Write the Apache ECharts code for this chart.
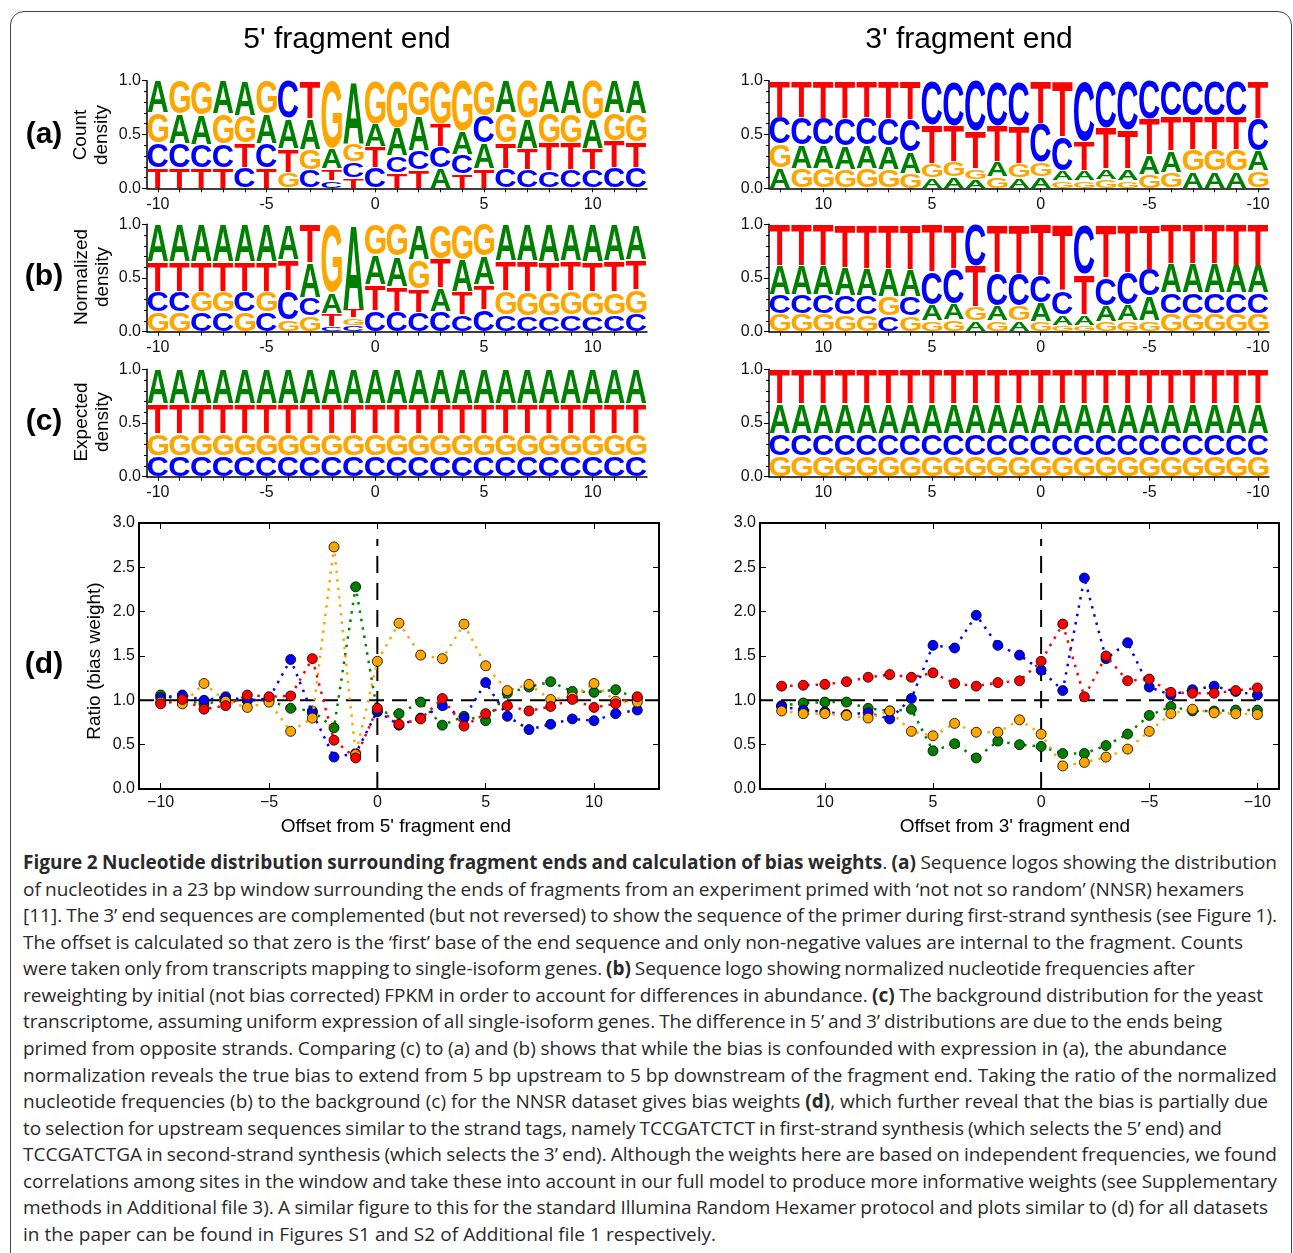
<!DOCTYPE html>
<html>
<head>
<meta charset="utf-8">
<title>Figure 2</title>
<script src="https://cdn.jsdelivr.net/npm/echarts@6/dist/echarts.min.js"></script>
<style>
  html, body { margin: 0; padding: 0; background: #fff; }
  body { width: 1293px; height: 1253px; position: relative; overflow: hidden; }
  #frame { position: absolute; left: 10px; top: 11px; width: 1282px; height: 1270px;
           border: 1.5px solid #444; border-radius: 14px; box-sizing: border-box; }
  #main { position: absolute; left: 0; top: 0; width: 1293px; height: 848px; }
  #caption { position: absolute; left: 23px; top: 849px; width: 1260px;
             font-family: 'Open Sans'; font-size: 19px; line-height: 26.57px; color: #2a2a2a; }
  #caption .ln { white-space: nowrap; }
  #caption b { font-weight: 700; }
</style>
</head>
<body>
<div id="frame"></div>
<div id="main"></div>
<div id="caption">
  <div class="ln"><span><b>Figure 2 Nucleotide distribution surrounding fragment ends and calculation of bias weights</b>. <b>(a)</b> Sequence logos showing the distribution</span></div>
  <div class="ln"><span>of nucleotides in a 23 bp window surrounding the ends of fragments from an experiment primed with ‘not not so random’ (NNSR) hexamers</span></div>
  <div class="ln"><span>[11]. The 3’ end sequences are complemented (but not reversed) to show the sequence of the primer during first-strand synthesis (see Figure 1).</span></div>
  <div class="ln"><span>The offset is calculated so that zero is the ‘first’ base of the end sequence and only non-negative values are internal to the fragment. Counts</span></div>
  <div class="ln"><span>were taken only from transcripts mapping to single-isoform genes. <b>(b)</b> Sequence logo showing normalized nucleotide frequencies after</span></div>
  <div class="ln"><span>reweighting by initial (not bias corrected) FPKM in order to account for differences in abundance. <b>(c)</b> The background distribution for the yeast</span></div>
  <div class="ln"><span>transcriptome, assuming uniform expression of all single-isoform genes. The difference in 5’ and 3’ distributions are due to the ends being</span></div>
  <div class="ln"><span>primed from opposite strands. Comparing (c) to (a) and (b) shows that while the bias is confounded with expression in (a), the abundance</span></div>
  <div class="ln"><span>normalization reveals the true bias to extend from 5 bp upstream to 5 bp downstream of the fragment end. Taking the ratio of the normalized</span></div>
  <div class="ln"><span>nucleotide frequencies (b) to the background (c) for the NNSR dataset gives bias weights <b>(d)</b>, which further reveal that the bias is partially due</span></div>
  <div class="ln"><span>to selection for upstream sequences similar to the strand tags, namely TCCGATCTCT in first-strand synthesis (which selects the 5’ end) and</span></div>
  <div class="ln"><span>TCCGATCTGA in second-strand synthesis (which selects the 3’ end). Although the weights here are based on independent frequencies, we found</span></div>
  <div class="ln"><span>correlations among sites in the window and take these into account in our full model to produce more informative weights (see Supplementary</span></div>
  <div class="ln"><span>methods in Additional file 3). A similar figure to this for the standard Illumina Random Hexamer protocol and plots similar to (d) for all datasets</span></div>
  <div class="ln"><span>in the paper can be found in Figures S1 and S2 of Additional file 1 respectively.</span></div>
</div>
<script>
// positions, left to right as drawn
var pos5 = [-10, -9, -8, -7, -6, -5, -4, -3, -2, -1, 0, 1, 2, 3, 4, 5, 6, 7, 8, 9, 10, 11, 12];
var pos3 = [12, 11, 10, 9, 8, 7, 6, 5, 4, 3, 2, 1, 0, -1, -2, -3, -4, -5, -6, -7, -8, -9, -10];
var xLabels = [-10, -5, 0, 5, 10];

// (a) count density, 5' end
var count5A = [.30, .27, .27, .31, .32, .27, .28, .29, .19, .58, .21, .26, .32, .19, .22, .24, .30, .28, .30, .31, .27, .30, .31];
var count5C = [.23, .23, .22, .22, .19, .23, .35, .17, .07, .15, .19, .16, .18, .20, .18, .25, .18, .17, .16, .17, .17, .19, .19];
var count5G = [.28, .31, .32, .28, .26, .31, .15, .19, .63, .17, .40, .44, .33, .40, .47, .33, .28, .35, .28, .27, .36, .26, .26];
var count5T = [.19, .19, .19, .19, .23, .19, .22, .35, .11, .10, .20, .14, .17, .21, .13, .18, .24, .20, .26, .25, .20, .25, .24];
// (b) normalized density, 5' end
var norm5A = [.35, .35, .35, .35, .35, .35, .33, .32, .19, .79, .27, .28, .33, .22, .30, .26, .34, .34, .35, .34, .35, .34, .33];
var norm5C = [.19, .19, .18, .18, .19, .18, .27, .17, .05, .06, .20, .19, .18, .19, .16, .21, .16, .15, .15, .16, .15, .16, .17];
var norm5G = [.18, .18, .19, .19, .18, .19, .11, .15, .64, .07, .29, .30, .27, .32, .33, .30, .22, .22, .22, .22, .22, .21, .22];
var norm5T = [.28, .28, .28, .28, .28, .28, .29, .36, .12, .08, .24, .23, .22, .27, .21, .23, .28, .29, .28, .28, .28, .29, .28];
// (c) expected density, 5' end
var exp5A = [.32, .32, .32, .32, .32, .32, .32, .32, .32, .32, .32, .32, .32, .32, .32, .32, .32, .32, .32, .32, .32, .32, .32];
var exp5C = [.195, .195, .195, .195, .195, .195, .195, .195, .195, .195, .195, .195, .195, .195, .195, .195, .195, .195, .195, .195, .195, .195, .195];
var exp5G = [.205, .205, .205, .205, .205, .205, .205, .205, .205, .205, .205, .205, .205, .205, .205, .205, .205, .205, .205, .205, .205, .205, .205];
var exp5T = [.28, .28, .28, .28, .28, .28, .28, .28, .28, .28, .28, .28, .28, .28, .28, .28, .28, .28, .28, .28, .28, .28, .28];

// (a) count density, 3' end (order of pos3)
var count3A = [.19, .22, .22, .22, .22, .22, .20, .10, .11, .08, .14, .10, .11, .09, .09, .10, .11, .18, .20, .16, .16, .16, .19];
var count3C = [.25, .26, .25, .26, .26, .26, .30, .41, .42, .47, .42, .42, .36, .32, .56, .44, .46, .36, .33, .33, .33, .33, .30];
var count3G = [.22, .18, .18, .17, .18, .17, .14, .13, .14, .10, .11, .13, .13, .07, .07, .08, .07, .13, .15, .20, .20, .20, .16];
var count3T = [.34, .34, .35, .35, .34, .35, .36, .36, .33, .35, .33, .35, .40, .52, .28, .38, .36, .33, .32, .31, .31, .31, .35];
// (b) normalized density, 3' end
var norm3A = [.27, .27, .27, .26, .25, .26, .25, .15, .15, .10, .14, .10, .18, .10, .10, .15, .15, .23, .27, .27, .27, .26, .26];
var norm3C = [.18, .18, .18, .18, .18, .15, .18, .31, .33, .39, .31, .30, .25, .22, .47, .26, .30, .25, .19, .19, .19, .19, .19];
var norm3G = [.17, .17, .17, .16, .16, .18, .15, .10, .11, .13, .10, .14, .09, .06, .06, .09, .10, .10, .17, .17, .17, .17, .17];
var norm3T = [.38, .38, .38, .40, .41, .41, .42, .44, .41, .38, .45, .46, .48, .62, .37, .50, .45, .42, .37, .37, .37, .38, .38];
// (c) expected density, 3' end
var exp3A = [.28, .28, .28, .28, .28, .28, .28, .28, .28, .28, .28, .28, .28, .28, .28, .28, .28, .28, .28, .28, .28, .28, .28];
var exp3C = [.205, .205, .205, .205, .205, .205, .205, .205, .205, .205, .205, .205, .205, .205, .205, .205, .205, .205, .205, .205, .205, .205, .205];
var exp3G = [.195, .195, .195, .195, .195, .195, .195, .195, .195, .195, .195, .195, .195, .195, .195, .195, .195, .195, .195, .195, .195, .195, .195];
var exp3T = [.32, .32, .32, .32, .32, .32, .32, .32, .32, .32, .32, .32, .32, .32, .32, .32, .32, .32, .32, .32, .32, .32, .32];

// (d) bias weights (ratio), 5' end, order of pos5
var ratio5A = [1.06, 1.00, 0.96, 1.00, 1.00, 1.00, 0.91, 0.88, 0.69, 2.28, 0.87, 0.85, 0.98, 0.72, 0.82, 0.77, 1.08, 1.15, 1.21, 1.10, 1.09, 1.12, 1.02];
var ratio5C = [1.03, 1.06, 1.00, 1.04, 1.00, 1.02, 1.46, 0.86, 0.36, 0.40, 0.88, 0.72, 0.80, 0.94, 0.80, 1.20, 0.82, 0.67, 0.73, 0.79, 0.77, 0.85, 0.89];
var ratio5G = [0.98, 0.96, 1.19, 0.99, 0.92, 0.98, 0.65, 0.80, 2.73, 0.39, 1.44, 1.87, 1.51, 1.47, 1.86, 1.39, 1.11, 1.18, 1.01, 1.04, 1.19, 0.99, 0.98];
var ratio5T = [0.96, 1.01, 0.90, 0.94, 1.06, 1.04, 1.05, 1.47, 0.55, 0.35, 0.91, 0.73, 0.79, 1.02, 0.71, 0.85, 0.94, 0.88, 0.93, 1.01, 0.92, 0.96, 1.04];
// (d) bias weights, 3' end, order of pos3
var ratio3A = [0.94, 0.97, 0.98, 0.98, 0.91, 0.88, 0.90, 0.43, 0.51, 0.35, 0.54, 0.50, 0.48, 0.40, 0.40, 0.49, 0.62, 0.83, 0.93, 0.88, 0.88, 0.89, 0.89];
var ratio3C = [0.93, 0.89, 0.87, 0.84, 0.86, 0.79, 1.02, 1.62, 1.59, 1.96, 1.62, 1.51, 1.34, 1.11, 2.38, 1.47, 1.65, 1.15, 1.06, 1.12, 1.16, 1.10, 1.06];
var ratio3G = [0.88, 0.85, 0.85, 0.83, 0.80, 0.88, 0.65, 0.60, 0.74, 0.64, 0.64, 0.78, 0.62, 0.26, 0.30, 0.36, 0.45, 0.65, 0.85, 0.90, 0.86, 0.85, 0.84];
var ratio3T = [1.16, 1.17, 1.18, 1.21, 1.26, 1.29, 1.26, 1.31, 1.19, 1.16, 1.20, 1.22, 1.44, 1.86, 1.04, 1.50, 1.22, 1.24, 1.09, 1.08, 1.08, 1.11, 1.14];

// right end (page x) of each caption line in the original layout
var captionEnds = [1277, 1244, 1277, 1243, 1195, 1263, 1222, 1227, 1277, 1268, 1222, 1277, 1277, 1268, 716];

var LETTERS = ['A', 'C', 'G', 'T'];
var LOGO_COLORS = { A: '#008000', C: '#0000ff', G: '#ffa500', T: '#ff0000' };
var LINE_COLORS = ['#007f00', '#0000ff', '#ffa500', '#ff0000'];
var FONT = 'Liberation Sans';

// glyph boxes of the logo letters, measured the way zrender draws text (middle baseline)
var GLYPH = {};
(function () {
  var ctx = document.createElement('canvas').getContext('2d');
  ctx.font = 'bold 100px ' + FONT;
  ctx.textBaseline = 'middle';
  ctx.textAlign = 'left';
  LETTERS.forEach(function (L) {
    var m = ctx.measureText(L);
    GLYPH[L] = { l: m.actualBoundingBoxLeft, r: m.actualBoundingBoxRight,
                 a: m.actualBoundingBoxAscent, d: m.actualBoundingBoxDescent };
  });
})();

// stack the letters of each column, smallest at the bottom
function logoData(pos, cols) {
  var out = [];
  pos.forEach(function (p, i) {
    var stack = cols.map(function (arr, li) { return { li: li, v: arr[i] }; });
    stack.sort(function (a, b) { return a.v - b.v; });
    var y = 0;
    stack.forEach(function (s) { out.push([p, y, y + s.v, s.li]); y += s.v; });
  });
  return out;
}

function renderLetter(params, api) {
  var p = api.value(0), y0 = api.value(1), y1 = api.value(2);
  var L = LETTERS[api.value(3)];
  var a = api.coord([p - 0.47, y1]);
  var b = api.coord([p + 0.47, y0]);
  var left = Math.min(a[0], b[0]), right = Math.max(a[0], b[0]);
  var top = Math.min(a[1], b[1]) + 0.6, bottom = Math.max(a[1], b[1]) - 0.6;
  var g = GLYPH[L];
  var sx = (right - left) / (g.l + g.r);
  var sy = Math.max(bottom - top, 0.5) / (g.a + g.d);
  return {
    type: 'text', silent: true,
    x: left + g.l * sx, y: top + g.a * sy, scaleX: sx, scaleY: sy,
    style: { text: L, x: 0, y: 0, fill: LOGO_COLORS[L], fontSize: 100, fontFamily: FONT,
             fontWeight: 'bold', align: 'left', verticalAlign: 'middle' }
  };
}

var chart = echarts.init(document.getElementById('main'));

var grids = [], xAxes = [], yAxes = [], series = [];
var logoRows = [{ top: 80.7, height: 107.6 }, { top: 224.3, height: 107.4 }, { top: 369.3, height: 107.4 }];
var logoSets = [
  { left: 147, pos: pos5, inverse: false, rows: [[count5A, count5C, count5G, count5T], [norm5A, norm5C, norm5G, norm5T], [exp5A, exp5C, exp5G, exp5T]] },
  { left: 769, pos: pos3, inverse: true, rows: [[count3A, count3C, count3G, count3T], [norm3A, norm3C, norm3G, norm3T], [exp3A, exp3C, exp3G, exp3T]] }
];

logoSets.forEach(function (set) {
  set.rows.forEach(function (cols, r) {
    var gi = grids.length;
    grids.push({ left: set.left, top: logoRows[r].top, width: 500, height: logoRows[r].height, outerBoundsMode: 'none' });
    xAxes.push({
      type: 'value', gridIndex: gi, min: -10.5, max: 12.5, inverse: set.inverse,
      axisLine: { show: true, onZero: false, lineStyle: { color: '#000', width: 1.5 } },
      axisTick: { show: true, length: 4, customValues: set.pos, lineStyle: { color: '#000', width: 1 } },
      axisLabel: { show: true, customValues: xLabels, margin: 8, fontSize: 16, color: '#111', fontFamily: FONT },
      splitLine: { show: false }
    });
    yAxes.push({
      type: 'value', gridIndex: gi, min: 0, max: 1, interval: 0.5,
      axisLine: { show: true, onZero: false, lineStyle: { color: '#000', width: 1.5 } },
      axisTick: { show: true, length: 5, lineStyle: { color: '#000', width: 1 } },
      minorTick: { show: true, splitNumber: 5, length: 3, lineStyle: { color: '#000', width: 1 } },
      axisLabel: { formatter: function (v) { return v.toFixed(1); }, margin: 6, fontSize: 16, color: '#111', fontFamily: FONT },
      splitLine: { show: false }, minorSplitLine: { show: false }
    });
    series.push({
      type: 'custom', xAxisIndex: gi, yAxisIndex: gi,
      dimensions: ['pos', 'y0', 'y1', 'letter'], encode: { x: 0, y: [1, 2] },
      data: logoData(set.pos, cols), renderItem: renderLetter, silent: true, clip: false
    });
  });
});

// (d) ratio panels
var ratioSets = [
  { left: 139, width: 520, pos: pos5, inverse: false, vals: [ratio5A, ratio5C, ratio5G, ratio5T] },
  { left: 760, width: 519, pos: pos3, inverse: true, vals: [ratio3A, ratio3C, ratio3G, ratio3T] }
];
function minusSign(v) { return String(v).replace('-', '\u2212'); }

ratioSets.forEach(function (set) {
  var gi = grids.length;
  grids.push({ left: set.left, top: 523, width: set.width, height: 266, outerBoundsMode: 'none',
               show: true, borderColor: '#000', borderWidth: 2 });
  var xb = xAxes.length;
  ['bottom', 'top'].forEach(function (where) {
    xAxes.push({
      type: 'value', gridIndex: gi, position: where, min: -11, max: 13, inverse: set.inverse,
      axisLine: { show: true, onZero: false, lineStyle: { color: '#000', width: 2 } },
      axisTick: { show: true, inside: true, length: 6, customValues: xLabels, lineStyle: { color: '#000', width: 1 } },
      axisLabel: { show: where === 'bottom', customValues: xLabels, formatter: minusSign, margin: 6,
                   fontSize: 16, color: '#111', fontFamily: FONT },
      splitLine: { show: false }
    });
  });
  var yb = yAxes.length;
  ['left', 'right'].forEach(function (where) {
    yAxes.push({
      type: 'value', gridIndex: gi, position: where, min: 0, max: 3, interval: 0.5,
      axisLine: { show: true, onZero: false, lineStyle: { color: '#000', width: 2 } },
      axisTick: { show: true, inside: true, length: 6, lineStyle: { color: '#000', width: 1 } },
      axisLabel: { show: where === 'left', formatter: function (v) { return v.toFixed(1); }, margin: 4,
                   fontSize: 16, color: '#111', fontFamily: FONT },
      splitLine: { show: false }
    });
  });
  // reference lines at ratio 1 and offset 0
  series.push({
    type: 'line', xAxisIndex: xb, yAxisIndex: yb, data: [[-11, 1], [13, 1]], symbol: 'none', silent: true, z: 1,
    lineStyle: { color: '#000', width: 2, type: [15, 8] }
  });
  series.push({
    type: 'line', xAxisIndex: xb, yAxisIndex: yb, data: [[0, 0], [0, 2.82]], symbol: 'none', silent: true, z: 1,
    lineStyle: { color: '#000', width: 2, type: [17, 10] }
  });
  set.vals.forEach(function (arr, k) {
    series.push({
      type: 'line', xAxisIndex: xb, yAxisIndex: yb, z: 2 + k,
      data: set.pos.map(function (p, i) { return [p, arr[i]]; }),
      symbol: 'circle', symbolSize: 10, showSymbol: true,
      itemStyle: { color: LINE_COLORS[k], borderColor: '#000', borderWidth: 0.8 },
      lineStyle: { color: LINE_COLORS[k], width: 2.5, type: [2.5, 6] }
    });
  });
});

function label(text, x, y, size, opts) {
  opts = opts || {};
  return {
    type: 'text', x: x, y: y, rotation: opts.rot || 0, silent: true,
    style: { text: text, fill: '#000', fontSize: size, fontFamily: FONT, fontWeight: opts.bold ? 'bold' : 'normal',
             lineHeight: opts.lh || size, align: 'center', verticalAlign: 'middle' }
  };
}

chart.setOption({
  animation: false,
  grid: grids,
  xAxis: xAxes,
  yAxis: yAxes,
  series: series,
  graphic: [
    label("5' fragment end", 347, 40, 30),
    label("3' fragment end", 969, 40, 30),
    label('(a)', 44, 135, 30, { bold: true }),
    label('(b)', 44, 277, 30, { bold: true }),
    label('(c)', 44, 422, 30, { bold: true }),
    label('(d)', 44, 665, 30, { bold: true }),
    label('Count\ndensity', 91, 135, 19, { rot: Math.PI / 2, lh: 21 }),
    label('Normalized\ndensity', 92, 277, 19, { rot: Math.PI / 2, lh: 21 }),
    label('Expected\ndensity', 92, 422, 19, { rot: Math.PI / 2, lh: 21 }),
    label('Ratio (bias weight)', 95, 661, 19, { rot: Math.PI / 2 }),
    label("Offset from 5' fragment end", 396, 827, 19),
    label("Offset from 3' fragment end", 1015, 827, 19)
  ]
});

// fit each caption line to the width it has in the original layout
function fitCaption() {
  var lines = document.querySelectorAll('#caption .ln');
  lines.forEach(function (ln, i) {
    ln.style.wordSpacing = '0px';
    var span = ln.firstElementChild;
    var w = span.getBoundingClientRect().width;
    var n = (span.textContent.match(/ /g) || []).length;
    if (n > 0) ln.style.wordSpacing = ((captionEnds[i] - 23 - w) / n) + 'px';
  });
}
fitCaption();
if (document.fonts && document.fonts.ready) document.fonts.ready.then(fitCaption);
</script>
</body>
</html>
